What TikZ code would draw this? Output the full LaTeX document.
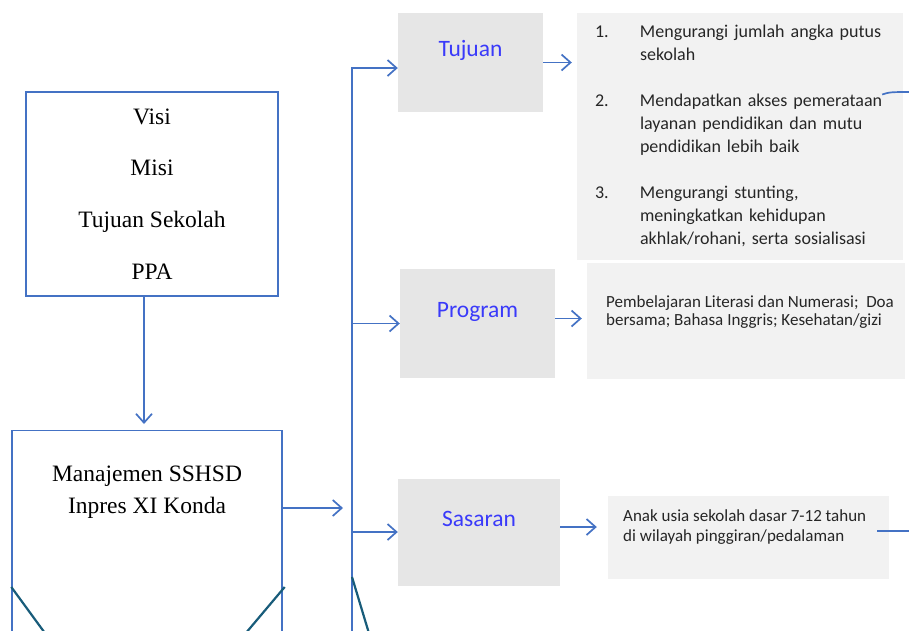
\documentclass[tikz,border=0pt]{standalone}
\usepackage{fontspec}
\setmainfont{Liberation Serif}
\newfontfamily\carlito{Carlito}
\usetikzlibrary{arrows.meta}

\definecolor{linkblue}{HTML}{4472C4}
\definecolor{footteal}{RGB}{24,92,122}
\definecolor{labelblue}{RGB}{58,58,250}
\definecolor{catgray}{HTML}{E6E6E6}
\definecolor{descgray}{HTML}{F2F2F2}
\definecolor{desctextcol}{HTML}{262626}

\tikzset{
  >={Straight Barb[length=9pt,width=16pt]},
  flow/.style={->, draw=linkblue, line width=1.7pt},
  busline/.style={draw=linkblue, line width=1.7pt},
  linebox/.style={draw=linkblue, line width=1.4pt, rectangle},
  serifcaption/.style={align=center, font=\fontsize{23.5}{32}\selectfont},
  catbox/.style={fill=catgray, rectangle, text=labelblue,
    font=\carlito\fontsize{23.5}{28}\selectfont, text height=16pt, text depth=28pt},
  descbox/.style={fill=descgray, rectangle},
  desctext/.style={align=left, anchor=north west, inner sep=0pt, text=desctextcol},
  footline/.style={draw=footteal, line width=2.2pt},
}

\begin{document}
\begin{tikzpicture}[x=1pt, y=-1pt]
\useasboundingbox (0,0) rectangle (909,630);
\clip (0,0) rectangle (909,630);

% left column
\node[linebox, minimum width=252pt, minimum height=204pt, align=center,
  font=\fontsize{23.5}{51.7}\selectfont] (visi) at (152,194) {Visi\\Misi\\Tujuan Sekolah\\PPA};
\node[linebox, minimum width=270pt, minimum height=260pt, anchor=north] (manajemen) at (147,430) {};
\node[serifcaption] (manajemenlbl) at (147,492) {Manajemen SSHSD\\Inpres XI Konda};

% middle column
\coordinate (bustop) at (352,68);
\coordinate (busbot) at (352,640);
\node[catbox, minimum width=145pt, minimum height=99pt] (tujuan) at (470.5,62.5) {Tujuan};
\node[catbox, minimum width=155pt, minimum height=109pt] (program) at (477.5,323.5) {Program};
\node[catbox, minimum width=162pt, minimum height=107pt] (sasaran) at (479,532) {Sasaran};

% right column
\node[descbox, minimum width=326pt, minimum height=247pt, text width=290pt, inner xsep=18pt,
  align=left, text=desctextcol, font=\carlito\fontsize{18}{23.3}\selectfont] (tujuanlist) at (740,136.5) {%
  \begin{tabular}{@{}p{45pt}@{}l@{}}
  1. & Mengurangi jumlah angka putus\\
     & sekolah\\[22pt]
  2. & Mendapatkan akses pemerataan\\
     & layanan pendidikan dan mutu\\
     & pendidikan lebih baik\\[22pt]
  3. & Mengurangi stunting,\\
     & meningkatkan kehidupan\\
     & akhlak/rohani, serta sosialisasi
  \end{tabular}};
\node[descbox, minimum width=318pt, minimum height=116pt] (programdesc) at (746,321) {};
\node[desctext, font=\carlito\fontsize{17}{18.5}\selectfont] (programtxt) at (606,295)
  {Pembelajaran Literasi dan Numerasi;\ \ Doa\\bersama; Bahasa Inggris; Kesehatan/gizi};
\node[descbox, minimum width=281pt, minimum height=83pt] (sasarandesc) at (748.5,537.5) {};
\node[desctext, font=\carlito\fontsize{17}{20}\selectfont] (sasarantxt) at (623,509.5)
  {Anak usia sekolah dasar 7-12 tahun\\di wilayah pinggiran/pedalaman};

% connectors
\draw[flow, shorten >=6pt] ([xshift=-8pt]visi.south) -- ([xshift=-3pt]manajemen.north);
\draw[flow, shorten >=9pt] ([yshift=-78pt]manajemen.north east) -- ([yshift=-78pt]manajemen.north east -| bustop);
\draw[flow] (busbot) -- (bustop) -- (tujuan.west |- bustop);
\draw[flow] (program.west -| bustop) -- (program.west);
\draw[flow] (sasaran.west -| bustop) -- (sasaran.west);
\draw[flow, shorten >=5pt] (tujuan.east) -- (tujuan.east -| tujuanlist.west);
\draw[flow, shorten >=5pt] ([yshift=5pt]program.east) -- ([yshift=5pt]program.east -| programdesc.west);
\draw[flow, shorten >=11pt] ([yshift=5pt]sasaran.east) -- ([yshift=5pt]sasaran.east -| sasarandesc.west);

% lines leaving the picture
\coordinate (tujuanexit) at (915,92);
\coordinate (sasaranexit) at (915,531);
\draw[busline] ([xshift=-21pt,yshift=42pt]tujuanlist.east) .. controls (890,92) .. (tujuanexit);
\draw[busline] ([xshift=-12pt,yshift=6.5pt]sasarandesc.east) -- (sasaranexit);

\coordinate (footA) at (50,640);
\coordinate (footB) at (240,640);
\coordinate (footC) at (371,640);
\draw[footline] ([yshift=-157pt]manajemen.north west) -- (footA);
\draw[footline] ([xshift=2pt,yshift=-157pt]manajemen.north east) -- (footB);
\draw[footline] ([yshift=-509pt]bustop) -- (footC);
\end{tikzpicture}
\end{document}
